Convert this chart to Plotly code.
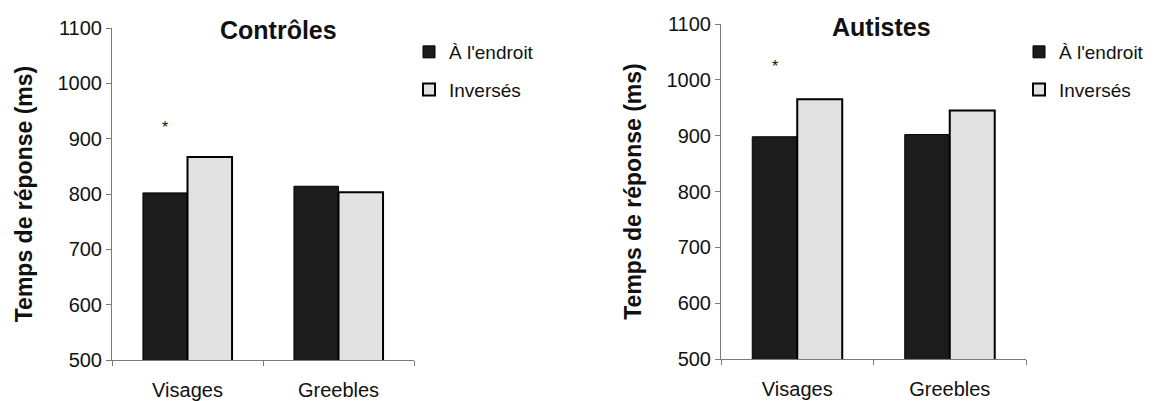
import plotly.graph_objects as go

categories = ["Visages", "Greebles"]
series_names = ["À l'endroit", "Inversés"]

controles_endroit = [802, 814]
controles_inverses = [867, 803]
autistes_endroit = [898, 902]
autistes_inverses = [965, 945]

star_controles = 926
star_autistes = 1030

y_ticks = [500, 600, 700, 800, 900, 1000, 1100]
titles = ["Contrôles", "Autistes"]
y_title = "Temps de réponse (ms)"

W, H = 1158, 401
FONT = "Liberation Sans, Arial, sans-serif"
DARK = "#1c1c1c"
LIGHT = "#e2e2e2"
AX = "#7a7a7a"

fig = go.Figure()

panels = [
    (controles_endroit, controles_inverses, "x", "y", "legend"),
    (autistes_endroit, autistes_inverses, "x2", "y2", "legend2"),
]
for endroit, inverses, xa, ya, lg in panels:
    fig.add_trace(go.Bar(x=categories, y=endroit, name=series_names[0],
                         legendgroup="a",
                         marker=dict(color=DARK, line=dict(color="#000", width=1)),
                         xaxis=xa, yaxis=ya, legend=lg))
    fig.add_trace(go.Bar(x=categories, y=inverses, name=series_names[1],
                         legendgroup="b",
                         marker=dict(color=LIGHT, line=dict(color="#000", width=2)),
                         xaxis=xa, yaxis=ya, legend=lg))

def px_x(p):
    return p / W

def px_y(p):
    return (H - p) / H

axis_common = dict(showgrid=False, zeroline=False, showline=True, linecolor=AX,
                   linewidth=1, ticks="outside", ticklen=5, tickcolor=AX,
                   automargin=False, fixedrange=True,
                   tickfont=dict(family=FONT, size=20, color="#111"))

ytitle = dict(text=y_title, font=dict(family=FONT, size=23, color="#111", weight="bold"), standoff=18)

legend_common = dict(xanchor="left", yanchor="top",
                     font=dict(family=FONT, size=19, color="#111"),
                     bgcolor="rgba(0,0,0,0)", traceorder="grouped",
                     tracegroupgap=10, itemwidth=30)

fig.update_layout(
    width=W, height=H, margin=dict(l=0, r=0, t=0, b=0, autoexpand=False),
    paper_bgcolor="white", plot_bgcolor="white",
    barmode="group", bargap=0.41, bargroupgap=0,
    font=dict(family=FONT, color="#111"),
    xaxis=dict(domain=[px_x(112), px_x(414)], anchor="y", tickson="boundaries",
               ticklabelstandoff=12, **axis_common),
    yaxis=dict(domain=[px_y(360), px_y(28)], anchor="x", range=[500, 1100],
               tickvals=y_ticks, title=ytitle, **axis_common),
    xaxis2=dict(domain=[px_x(721), px_x(1026)], anchor="y2", tickson="boundaries",
                ticklabelstandoff=12, **axis_common),
    yaxis2=dict(domain=[px_y(359), px_y(24)], anchor="x2", range=[500, 1100],
                tickvals=y_ticks, title=ytitle, **axis_common),
    legend=dict(x=px_x(409), y=px_y(33), **legend_common),
    legend2=dict(x=px_x(1019), y=px_y(33), **legend_common),
    showlegend=True,
)

# titles
fig.add_annotation(text="<b>" + titles[0] + "</b>", xref="paper", yref="paper",
                   x=px_x(278), y=px_y(30), xanchor="center", yanchor="middle",
                   showarrow=False, font=dict(family=FONT, size=25, color="#111"))
fig.add_annotation(text="<b>" + titles[1] + "</b>", xref="paper", yref="paper",
                   x=px_x(881), y=px_y(27), xanchor="center", yanchor="middle",
                   showarrow=False, font=dict(family=FONT, size=25, color="#111"))

# significance stars above the upright bar of "Visages"
offset = -(1 - 0.41) / 4
fig.add_annotation(text="*", x=offset, y=star_controles, xref="x", yref="y",
                   showarrow=False, yanchor="middle", yshift=-3,
                   font=dict(family=FONT, size=16, color="#111"))
fig.add_annotation(text="*", x=offset, y=star_autistes, xref="x2", yref="y2",
                   showarrow=False, yanchor="middle", yshift=-3,
                   font=dict(family=FONT, size=16, color="#111"))

fig.write_html("out.html")
